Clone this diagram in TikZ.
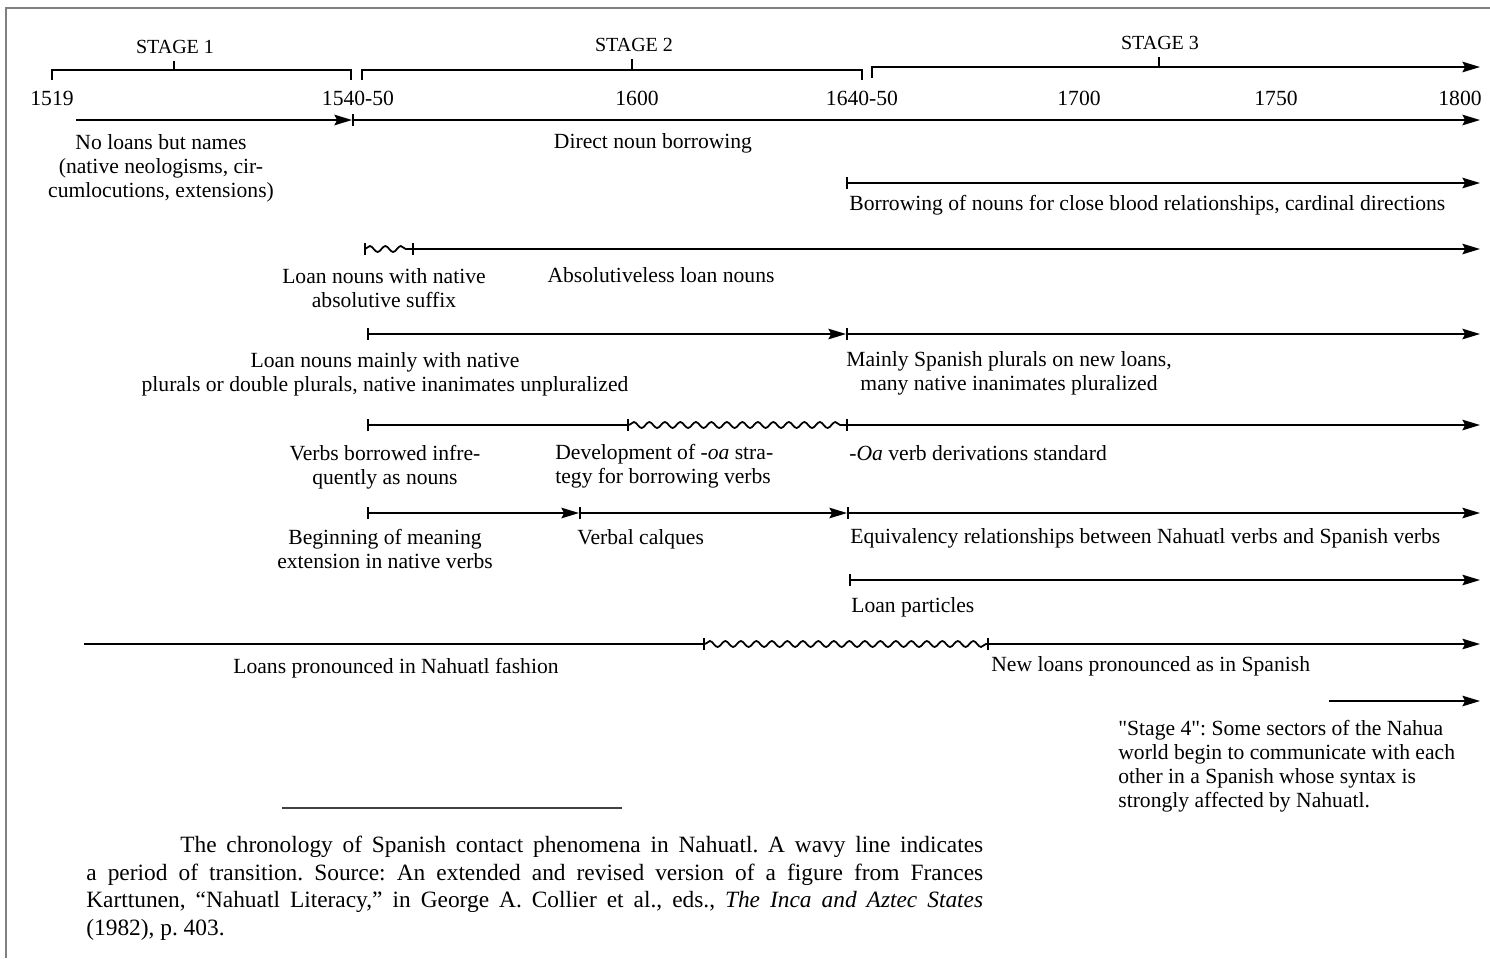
\documentclass[tikz,border=0pt]{standalone}
\usepackage{fontspec}
\setmainfont{Liberation Serif}[Ligatures=TeXOff]
\usepackage{tikz}
\usetikzlibrary{arrows.meta, decorations.pathmorphing}
\newcommand{\lblfont}{\fontsize{12.3pt}{13.6pt}\selectfont}
\newcommand{\stgfont}{\fontsize{11.4pt}{13pt}\selectfont}
\newcommand{\capfont}{\fontsize{13.3pt}{15.7pt}\selectfont}
\tikzset{tick/.tip={Bar[width=7pt]},
         head/.tip={Stealth[length=10pt,width=6pt,inset=1.5pt]}}
\tikzstyle{phase}=[line width=1pt, black]
\tikzstyle{wavy}=[decorate, decoration={snake, segment length=0.31cm, amplitude=0.06cm}]
\tikzstyle{lab}=[font=\lblfont, inner sep=0pt]

\begin{document}
\frenchspacing
\begin{tikzpicture}[x=0.02cm, y=-0.02cm]
  \useasboundingbox (0,0) rectangle (1490,958);
  % Frame
  \draw[gray, line width=1.2pt] (6,958) -- (6,8) -- (1490,8);

  % Stage brackets
  \draw[phase] (52,80) -- (52,70) -- (351,70) -- (351,80);
  \draw[phase] (174,70) -- (174,61);
  \draw[phase] (362,80) -- (362,70) -- (862,70) -- (862,80);
  \draw[phase] (632,70) -- (632,59);
  \draw[phase, -head] (872,78) -- (872,67) -- (1480,67);
  \draw[phase] (1159,67) -- (1159,57);
  \node[font=\stgfont, inner sep=0pt, anchor=base] (st1) at (175,53) {STAGE 1};
  \node[font=\stgfont, inner sep=0pt, anchor=base] (st2) at (634,51) {STAGE 2};
  \node[font=\stgfont, inner sep=0pt, anchor=base] (st3) at (1160,49) {STAGE 3};

  % Years
  \foreach \xi/\yl in {52/1519,358/1540-50,637/1600,862/1640-50,1079/1700,1276/1750,1460/1800}{
    \node[lab, anchor=base] (y\yl) at (\xi,105) {\yl};
  }

  % Row 1: loans in general
  \coordinate (r1a) at (76,120);  \coordinate (r1b) at (352,120);  \coordinate (r1c) at (1480,120);
  \draw[phase, -head] (r1a) -- (r1b);
  \draw[phase, tick-head] (r1b) -- (r1c);
  \node[lab, align=center, anchor=north] (noloan) at (161,134)
    {No loans but names\\(native neologisms, cir-\\cumlocutions, extensions)};
  \node[lab, anchor=base] (direct) at (653,148) {Direct noun borrowing};

  % Row 2: blood relationships
  \coordinate (r2a) at (846,183);  \coordinate (r2b) at (1480,183);
  \draw[phase, tick-head] (r2a) -- (r2b);
  \node[lab, anchor=base west] (blood) at (849,210)
    {Borrowing of nouns for close blood relationships, cardinal directions};

  % Row 3: absolutive suffix
  \coordinate (r3a) at (365,249);  \coordinate (r3b) at (412,249);  \coordinate (r3c) at (1480,249);
  \draw[phase] ([yshift=0.13cm]r3a) -- ([yshift=-0.12cm]r3a);
  \draw[phase, wavy] (r3a) -- (r3b);
  \draw[phase, tick-head] (r3b) -- (r3c);
  \node[lab, align=center, anchor=north] (absuf) at (384,268)
    {Loan nouns with native\\absolutive suffix};
  \node[lab, anchor=base] (absless) at (661,282) {Absolutiveless loan nouns};

  % Row 4: plurals
  \coordinate (r4a) at (367,334);  \coordinate (r4b) at (846,334);  \coordinate (r4c) at (1480,334);
  \draw[phase, tick-head] (r4a) -- (r4b);
  \draw[phase, tick-head] (r4b) -- (r4c);
  \node[lab, align=center, anchor=north] (natpl) at (385,352)
    {Loan nouns mainly with native\\plurals or double plurals, native inanimates unpluralized};
  \node[lab, align=center, anchor=north] (sppl) at (1009,351)
    {Mainly Spanish plurals on new loans,\\many native inanimates pluralized};

  % Row 5: verbs
  \coordinate (r5a) at (367,425);  \coordinate (r5b) at (629,425);
  \coordinate (r5c) at (846,425);  \coordinate (r5d) at (1480,425);
  \draw[phase, tick-tick] (r5a) -- (r5b);
  \draw[phase, wavy] (r5b) -- (r5c);
  \draw[phase, tick-head] (r5c) -- (r5d);
  \node[lab, align=center, anchor=north] (vbnoun) at (385,445)
    {Verbs borrowed infre-\\quently as nouns};
  \node[lab, align=left, anchor=north west] (oadev) at (555,444)
    {Development of -\textit{oa} stra-\\tegy for borrowing verbs};
  \node[lab, anchor=base west] (oastd) at (849,460) {-\textit{Oa} verb derivations standard};

  % Row 6: meaning extension
  \coordinate (r6a) at (367,513);  \coordinate (r6b) at (579,513);
  \coordinate (r6c) at (847,513);  \coordinate (r6d) at (1480,513);
  \draw[phase, tick-head] (r6a) -- (r6b);
  \draw[phase, tick-head] (r6b) -- (r6c);
  \draw[phase, tick-head] (r6c) -- (r6d);
  \node[lab, align=center, anchor=north] (meanext) at (385,529)
    {Beginning of meaning\\extension in native verbs};
  \node[lab, anchor=base west] (calque) at (577,544) {Verbal calques};
  \node[lab, anchor=base west] (equiv) at (850,543)
    {Equivalency relationships between Nahuatl verbs and Spanish verbs};

  % Row 7: particles
  \coordinate (r7a) at (849,580);  \coordinate (r7b) at (1480,580);
  \draw[phase, tick-head] (r7a) -- (r7b);
  \node[lab, anchor=base west] (partic) at (851,612) {Loan particles};

  % Row 8: pronunciation
  \coordinate (r8a) at (84,644);   \coordinate (r8b) at (705,644);
  \coordinate (r8c) at (987,644);  \coordinate (r8d) at (1480,644);
  \draw[phase, -tick] (r8a) -- (r8b);
  \draw[phase, wavy] (r8b) -- (r8c);
  \draw[phase, tick-head] (r8c) -- (r8d);
  \node[lab, anchor=base] (nahpron) at (396,673) {Loans pronounced in Nahuatl fashion};
  \node[lab, anchor=base west] (sppron) at (991,671) {New loans pronounced as in Spanish};

  % Row 9: stage 4
  \coordinate (r9a) at (1329,701);  \coordinate (r9b) at (1480,701);
  \draw[phase, -head] (r9a) -- (r9b);
  \node[lab, align=left, anchor=north west] (stg4) at (1118,720)
    {"Stage 4": Some sectors of the Nahua\\world begin to communicate with each\\other in a Spanish whose syntax is\\strongly affected by Nahuatl.};

  % Caption
  \draw[black!75, line width=0.8pt] (282,808) -- (622,808);
  \node[font=\capfont, inner sep=0pt, text width=17.94cm, align=justify, anchor=north west] (cap) at (86,836)
    {\hspace*{1.88cm}The chronology of Spanish contact phenomena in Nahuatl. A wavy line indicates\linebreak
     a period of transition. Source: An extended and revised version of a figure from Frances\linebreak
     Karttunen, “Nahuatl Literacy,” in George A. Collier et al., eds., \textit{The Inca and Aztec States}\linebreak
     (1982), p. 403.};
\end{tikzpicture}
\end{document}
